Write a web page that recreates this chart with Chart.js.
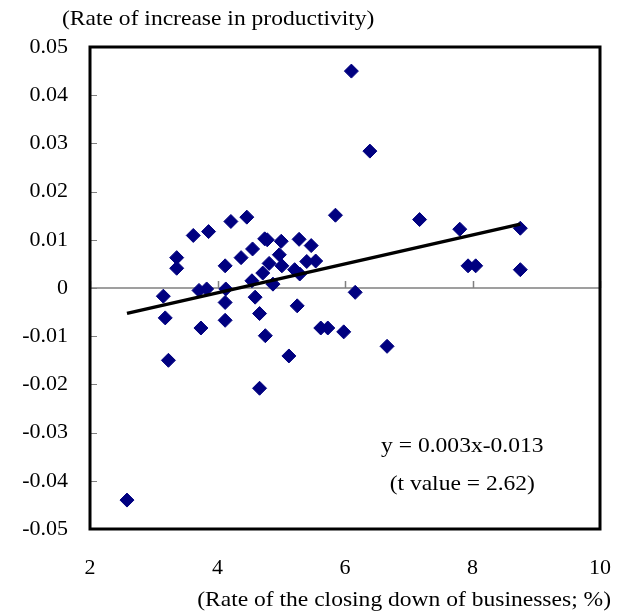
<!DOCTYPE html>
<html>
<head>
<meta charset="utf-8">
<script src="https://cdn.jsdelivr.net/npm/chart.js@4/dist/chart.umd.min.js"></script>
<style>
  html, body { margin: 0; padding: 0; background: #fff; }
  #wrap { width: 628px; height: 616px; position: relative; }
</style>
</head>
<body>
<div id="wrap"><canvas id="c"></canvas></div>
<script>
// Closing-down rate of businesses (%) by region
const closingRate = [
  2.58, 3.15, 3.18, 3.23, 3.36, 3.36, 3.62, 3.71, 3.74, 3.83,
  3.86, 4.12, 4.12, 4.12, 4.13, 4.21, 4.37, 4.46, 4.54, 4.55,
  4.59, 4.66, 4.66, 4.71, 4.74, 4.75, 4.78, 4.81, 4.87, 4.97,
  5.00, 5.01, 5.12, 5.21, 5.25, 5.28, 5.29, 5.40, 5.47, 5.54,
  5.62, 5.73, 5.85, 5.98, 6.10, 6.16, 6.39, 6.66, 7.17, 7.80,
  7.93, 8.05, 8.75, 8.75
];
// Rate of increase in productivity for the same regions
const productivityGrowth = [
  -0.0440, -0.0017, -0.0062, -0.0150, 0.0063, 0.0041, 0.0109, -0.0005, -0.0083, -0.0002,
  0.0117, 0.0046, -0.0030, -0.0067, -0.0002, 0.0138, 0.0063, 0.0147, 0.0015, 0.0081,
  -0.0019, -0.0053, -0.0208, 0.0031, 0.0102, -0.0099, 0.0100, 0.0051, 0.0008, 0.0069,
  0.0097, 0.0046, -0.0141, 0.0038, -0.0037, 0.0101, 0.0029, 0.0055, 0.0088, 0.0056,
  -0.0083, -0.0083, 0.0151, -0.0091, 0.0450, -0.0009, 0.0284, -0.0121, 0.0142, 0.0122,
  0.0046, 0.0046, 0.0124, 0.0038
];
// Fitted regression: y = slope * x + intercept
const slope = 0.003;
const intercept = -0.013;
const fitLabels = ['y = 0.003x-0.013', '(t value = 2.62)'];

const xTickValues = [2, 4, 6, 8, 10];
const yTickValues = [-0.05, -0.04, -0.03, -0.02, -0.01, 0, 0.01, 0.02, 0.03, 0.04, 0.05];

const yTitle = '(Rate of increase in productivity)';
const xTitle = '(Rate of the closing down of businesses; %)';

const points = closingRate.map((x, i) => ({ x: x, y: productivityGrowth[i] }));
const xMin = Math.min(...closingRate);
const xMax = Math.max(...closingRate);
const fitLine = [
  { x: xMin, y: slope * xMin + intercept },
  { x: xMax, y: slope * xMax + intercept }
];

const FONT = '"Liberation Serif", "Times New Roman", serif';

function stretchedText(ctx, text, x, y, align) {
  const sx = 1.07;
  ctx.save();
  ctx.translate(x, y);
  ctx.scale(sx, 1);
  ctx.textAlign = align;
  ctx.textBaseline = 'middle';
  ctx.fillText(text, 0, 0);
  ctx.restore();
}

// Frame, axis ticks, zero line, titles and the regression text
const decorations = {
  id: 'decorations',
  beforeDatasetsDraw(chart) {
    const { ctx, chartArea: a, scales } = chart;
    const xs = scales.x, ys = scales.y;
    const y0 = ys.getPixelForValue(0);
    ctx.save();
    ctx.strokeStyle = '#808080';
    ctx.lineWidth = 1.5;
    ctx.beginPath();
    ctx.moveTo(a.left, y0);
    ctx.lineTo(a.right, y0);
    xTickValues.forEach(v => {
      const px = Math.round(xs.getPixelForValue(v)) + 0.5;
      ctx.moveTo(px, y0);
      ctx.lineTo(px, y0 - 7);
    });
    ctx.stroke();
    ctx.lineWidth = 1;
    ctx.beginPath();
    yTickValues.forEach(v => {
      const py = Math.round(ys.getPixelForValue(v)) + 0.5;
      ctx.moveTo(a.left, py);
      ctx.lineTo(a.left + 7, py);
    });
    ctx.stroke();
    ctx.restore();
  },
  afterDraw(chart) {
    const { ctx, chartArea: a, scales } = chart;
    ctx.save();
    ctx.strokeStyle = '#000';
    ctx.lineWidth = 3;
    ctx.strokeRect(a.left, a.top, a.right - a.left, a.bottom - a.top);

    ctx.fillStyle = '#000';
    ctx.font = '22px ' + FONT;
    stretchedText(ctx, yTitle, a.left - 28, 19, 'left');
    stretchedText(ctx, xTitle, a.right + 11, a.bottom + 71, 'right');

    const cx = scales.x.getPixelForValue(7.84);
    stretchedText(ctx, fitLabels[0], cx, scales.y.getPixelForValue(-0.0329), 'center');
    stretchedText(ctx, fitLabels[1], cx, scales.y.getPixelForValue(-0.0408), 'center');
    ctx.restore();
  }
};

new Chart(document.getElementById('c'), {
  type: 'scatter',
  data: {
    datasets: [
      {
        type: 'line',
        data: fitLine,
        borderColor: '#000',
        borderWidth: 3.5,
        pointRadius: 0,
        fill: false,
        order: 0
      },
      {
        data: points,
        pointStyle: 'rectRot',
        pointRadius: 7,
        pointBackgroundColor: '#000080',
        pointBorderColor: '#000080',
        pointBorderWidth: 1,
        order: 1
      }
    ]
  },
  options: {
    responsive: true,
    maintainAspectRatio: false,
    animation: false,
    events: [],
    layout: { padding: { left: 0, top: 47, right: 28, bottom: 0 } },
    plugins: { legend: { display: false }, tooltip: { enabled: false } },
    scales: {
      x: {
        type: 'linear',
        min: 2,
        max: 10,
        afterFit(s) {
          s.height = 87;
          s.paddingLeft = 0;
          s.paddingRight = 0;
        },
        afterBuildTicks(s) { s.ticks = xTickValues.map(v => ({ value: v })); },
        grid: { display: false, drawTicks: false },
        border: { display: false },
        ticks: {
          padding: 26,
          color: '#000',
          font: { family: FONT, size: 22 },
          maxRotation: 0,
          callback: v => String(v)
        }
      },
      y: {
        type: 'linear',
        min: -0.05,
        max: 0.05,
        afterFit(s) {
          s.width = 90;
          s.paddingTop = 0;
          s.paddingBottom = 0;
        },
        afterBuildTicks(s) { s.ticks = yTickValues.map(v => ({ value: v })); },
        grid: { display: false, drawTicks: false },
        border: { display: false },
        ticks: {
          padding: 22,
          color: '#000',
          font: { family: FONT, size: 22 },
          callback: v => (Math.abs(v) < 1e-9 ? '0' : v.toFixed(2))
        }
      }
    }
  },
  plugins: [decorations]
});
</script>
</body>
</html>
